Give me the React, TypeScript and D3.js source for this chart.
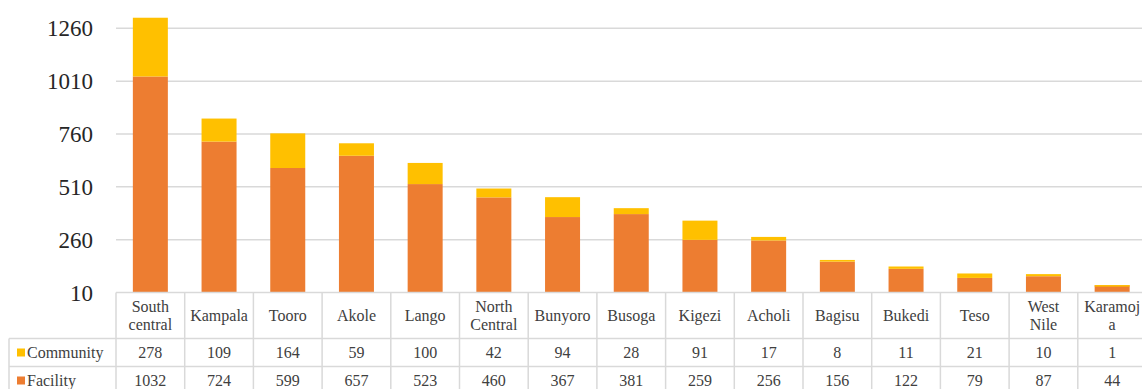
import React from "react";
import * as d3 from "d3";

const categories = ["South\ncentral", "Kampala", "Tooro", "Akole", "Lango", "North\nCentral", "Bunyoro", "Busoga", "Kigezi", "Acholi", "Bagisu", "Bukedi", "Teso", "West\nNile", "Karamoj\na"];
const community = [278, 109, 164, 59, 100, 42, 94, 28, 91, 17, 8, 11, 21, 10, 1];
const facility = [1032, 724, 599, 657, 523, 460, 367, 381, 259, 256, 156, 122, 79, 87, 44];
const yTicks = [10, 260, 510, 760, 1010, 1260];
const seriesNames = ["Community", "Facility"];
const colors = { Community: "#FFC000", Facility: "#ED7D31" };

const W = 1142;
const H = 389;
const plotLeft = 116;
const colW = 68.7;
const plotRight = W;
const headerTop = 292.5;
const headerBottom = 338.5;
const row1Bottom = 366.5;
const row2Bottom = 395;
const legendLeft = 9;

export default function App() {
  const y = d3.scaleLinear().domain([10, 1260]).range([292.5, 28.3]);
  const x = d3
    .scaleBand<number>()
    .domain(d3.range(categories.length))
    .range([plotLeft, plotLeft + colW * categories.length])
    .paddingInner(0)
    .paddingOuter(0);
  const barW = 35;
  const stackData = categories.map((c, i) => ({ Facility: facility[i], Community: community[i] }));
  const stack = d3.stack<any>().keys(["Facility", "Community"])(stackData);
  const clampY = (v: number) => y(Math.max(10, v));
  const ts = { fontFamily: "'Liberation Serif'" };
  const grid = "#d9d9d9";
  const textCol = "#404040";

  return (
    <svg width={W} height={H} style={{ position: "absolute", left: 0, top: 0, background: "#fff" }}>
      <rect x={0} y={0} width={W} height={H} fill="#fff" />
      {yTicks.map((t) => (
        <g key={t}>
          {t !== 10 && <line x1={plotLeft} x2={plotRight} y1={y(t)} y2={y(t)} stroke={grid} strokeWidth={1.5} />}
          <text x={93} y={y(t)} dy="0.35em" textAnchor="end" fontSize={23} fill="#262626" style={ts}>
            {t}
          </text>
        </g>
      ))}
      {stack.map((s) => (
        <g key={s.key} fill={(colors as any)[s.key]}>
          {s.map((d, i) => (
            <rect
              key={i}
              x={(x(i) as number) + (colW - barW) / 2}
              width={barW}
              y={clampY(d[1])}
              height={Math.max(s.key === "Community" ? 1.5 : 0, clampY(d[0]) - clampY(d[1]))}
            />
          ))}
        </g>
      ))}
      <g stroke={grid} strokeWidth={1.5} fill="none">
        <line x1={plotLeft} x2={W} y1={headerTop} y2={headerTop} />
        <line x1={legendLeft} x2={W} y1={headerBottom} y2={headerBottom} />
        <line x1={legendLeft} x2={W} y1={row1Bottom} y2={row1Bottom} />
        <line x1={legendLeft} x2={legendLeft} y1={headerBottom} y2={row2Bottom} />
        {d3.range(categories.length + 1).map((i) => (
          <line key={i} x1={plotLeft + i * colW} x2={plotLeft + i * colW} y1={headerTop} y2={row2Bottom} />
        ))}
      </g>
      {categories.map((c, i) => {
        const lines = c.split("\n");
        const cx = (x(i) as number) + colW / 2;
        const cy = (headerTop + headerBottom) / 2;
        const lh = 18;
        return (
          <text key={i} textAnchor="middle" fontSize={16} fill={textCol} style={ts}>
            {lines.map((l, j) => (
              <tspan key={j} x={cx} y={cy + (j - (lines.length - 1) / 2) * lh} dy="0.35em">
                {l}
              </tspan>
            ))}
          </text>
        );
      })}
      {[community, facility].map((arr, r) => {
        const cy = r === 0 ? (headerBottom + row1Bottom) / 2 : 380.5;
        return (
          <g key={r}>
            <rect x={17} y={cy - 4} width={8} height={8} fill={(colors as any)[seriesNames[r]]} />
            <text x={27} y={cy} dy="0.35em" fontSize={16} fill={textCol} style={ts}>
              {seriesNames[r]}
            </text>
            {arr.map((v, i) => (
              <text key={i} x={(x(i) as number) + colW / 2} y={cy} dy="0.35em" textAnchor="middle" fontSize={16} fill={textCol} style={ts}>
                {v}
              </text>
            ))}
          </g>
        );
      })}
    </svg>
  );
}
